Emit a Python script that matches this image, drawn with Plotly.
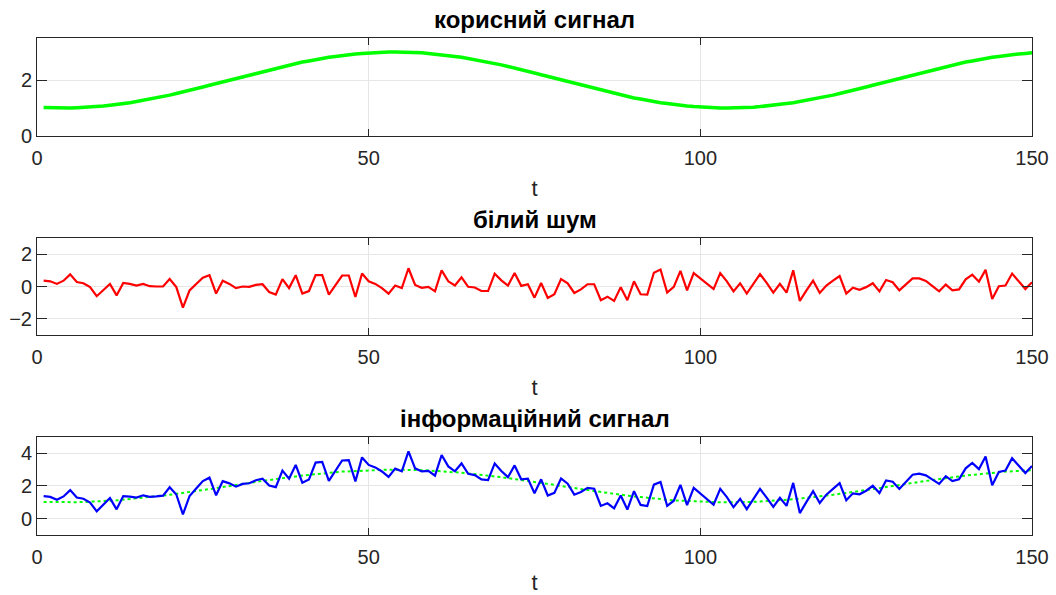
import plotly.graph_objects as go

t = list(range(1, 151))

signal_base = [1.02, 1.01, 1.00, 1.00, 1.00, 1.01, 1.02, 1.03, 1.05, 1.07,
               1.10, 1.12, 1.16, 1.19, 1.23, 1.27, 1.32, 1.36, 1.41, 1.46,
               1.52, 1.57, 1.63, 1.69, 1.75, 1.81, 1.87, 1.94, 2.00, 2.06,
               2.13, 2.19, 2.25, 2.31, 2.37, 2.43, 2.48, 2.54, 2.59, 2.64,
               2.68, 2.73, 2.77, 2.81, 2.84, 2.88, 2.90, 2.93, 2.95, 2.97,
               2.98, 2.99, 3.00, 3.00, 3.00, 2.99, 2.98, 2.97, 2.95, 2.93,
               2.90, 2.88, 2.84, 2.81, 2.77, 2.73, 2.68, 2.64, 2.59, 2.54,
               2.48, 2.43, 2.37, 2.31, 2.25, 2.19, 2.13, 2.06, 2.00, 1.94,
               1.87, 1.81, 1.75, 1.69, 1.63, 1.57, 1.52, 1.46, 1.41, 1.36,
               1.32, 1.27, 1.23, 1.19, 1.16, 1.12, 1.10, 1.07, 1.05, 1.03,
               1.02, 1.01, 1.00, 1.00, 1.00, 1.01, 1.02, 1.03, 1.05, 1.07,
               1.10, 1.12, 1.16, 1.19, 1.23, 1.27, 1.32, 1.36, 1.41, 1.46,
               1.52, 1.57, 1.63, 1.69, 1.75, 1.81, 1.87, 1.94, 2.00, 2.06,
               2.13, 2.19, 2.25, 2.31, 2.37, 2.43, 2.48, 2.54, 2.59, 2.64,
               2.68, 2.73, 2.77, 2.81, 2.84, 2.88, 2.90, 2.93, 2.95, 2.97]

noise = [0.36, 0.32, 0.16, 0.36, 0.75, 0.28, 0.20, -0.04, -0.60, -0.24,
         0.16, -0.55, 0.22, 0.16, 0.06, 0.16, 0.02, 0.00, 0.00, 0.46,
         -0.04, -1.31, -0.24, 0.16, 0.55, 0.70, -0.44, 0.36, 0.16, -0.10,
         0.00, -0.02, 0.10, 0.14, -0.34, -0.50, 0.46, -0.10, 0.70, -0.44,
         -0.28, 0.70, 0.70, -0.50, 0.10, 0.68, 0.68, -0.65, 0.80, 0.32,
         0.16, -0.10, -0.44, 0.06, -0.10, 1.13, 0.10, -0.08, -0.02, -0.30,
         1.00, 0.32, 0.06, 0.57, -0.02, -0.06, -0.28, -0.28, 0.79, 0.38,
         0.06, 0.83, 0.04, 0.14, -0.69, 0.22, -0.71, -0.48, 0.46, 0.20,
         -0.40, -0.18, 0.14, 0.14, -0.85, -0.63, -0.89, -0.04, -0.85, 0.32,
         -0.48, -0.50, 0.85, 1.05, -0.38, -0.02, 0.97, -0.24, 0.83, 0.50,
         0.16, -0.16, 0.83, 0.32, -0.30, 0.20, -0.44, 0.16, 0.77, 0.22,
         -0.38, 0.16, -0.38, 1.00, -0.89, -0.24, 0.36, -0.40, 0.06, 0.36,
         0.65, -0.44, -0.08, -0.20, -0.04, 0.20, -0.30, 0.40, 0.26, -0.24,
         0.12, 0.50, 0.50, 0.34, 0.02, -0.30, 0.12, -0.24, -0.18, 0.44,
         0.73, 0.30, 1.03, -0.77, 0.02, 0.06, 0.80, 0.30, -0.16, 0.26]

info = [s + n for s, n in zip(signal_base, noise)]

titles = ["корисний сигнал", "білий шум", "інформаційний сигнал"]
x_ticks = [0, 50, 100, 150]
y_ticks = [[0, 2], [-2, 0, 2], [0, 2, 4]]
y_ranges = [[0, 3.5], [-3, 3], [-1, 5]]
domains = [[0.8028, 1.0], [0.4024, 0.5976], [0.0, 0.1972]]

FONT = "Liberation Sans, Arial, sans-serif"

fig = go.Figure()
fig.add_trace(go.Scatter(x=t, y=signal_base, mode="lines",
                         line=dict(color="#00FF00", width=3.5),
                         xaxis="x", yaxis="y", showlegend=False))
fig.add_trace(go.Scatter(x=t, y=noise, mode="lines",
                         line=dict(color="#FF0000", width=2.2),
                         xaxis="x2", yaxis="y2", showlegend=False))
fig.add_trace(go.Scatter(x=t, y=signal_base, mode="lines",
                         line=dict(color="#00FF00", width=2, dash="dot"),
                         xaxis="x3", yaxis="y3", showlegend=False))
fig.add_trace(go.Scatter(x=t, y=info, mode="lines",
                         line=dict(color="#0000FF", width=2.2),
                         xaxis="x3", yaxis="y3", showlegend=False))

layout = dict(
    width=1056, height=595,
    margin=dict(l=37, r=24, t=38, b=60, autoexpand=False),
    paper_bgcolor="white", plot_bgcolor="white",
    font=dict(family=FONT, size=20, color="#262626"),
)

annotations = []
for i in range(3):
    sx = "" if i == 0 else str(i + 1)
    layout["xaxis" + sx] = dict(
        domain=[0, 1], range=[0, 150], anchor="y" + sx,
        tickvals=x_ticks, showgrid=True, gridcolor="#E6E6E6", gridwidth=1,
        zeroline=False, showline=True, linecolor="#262626", linewidth=1,
        mirror="allticks", ticks="inside", ticklen=7, tickcolor="#262626",
        tickfont=dict(size=20, color="#262626"), ticklabelstandoff=4,
        automargin=False,
        title=dict(text="t", font=dict(size=22, color="#262626"), standoff=12),
    )
    layout["yaxis" + sx] = dict(
        domain=domains[i], range=y_ranges[i], anchor="x" + sx,
        tickvals=y_ticks[i], showgrid=True, gridcolor="#E6E6E6", gridwidth=1,
        zeroline=False, showline=True, linecolor="#262626", linewidth=1,
        mirror="allticks", ticks="inside", ticklen=10, tickcolor="#262626",
        tickfont=dict(size=20, color="#262626"), automargin=False,
    )
    annotations.append(dict(
        text="<b>" + titles[i] + "</b>", xref="paper", yref="paper",
        x=0.5, y=domains[i][1], yshift=3, xanchor="center", yanchor="bottom",
        showarrow=False, font=dict(size=24, color="#000000", family=FONT),
    ))
layout["annotations"] = annotations
fig.update_layout(**layout)

fig.write_html("out.html")
